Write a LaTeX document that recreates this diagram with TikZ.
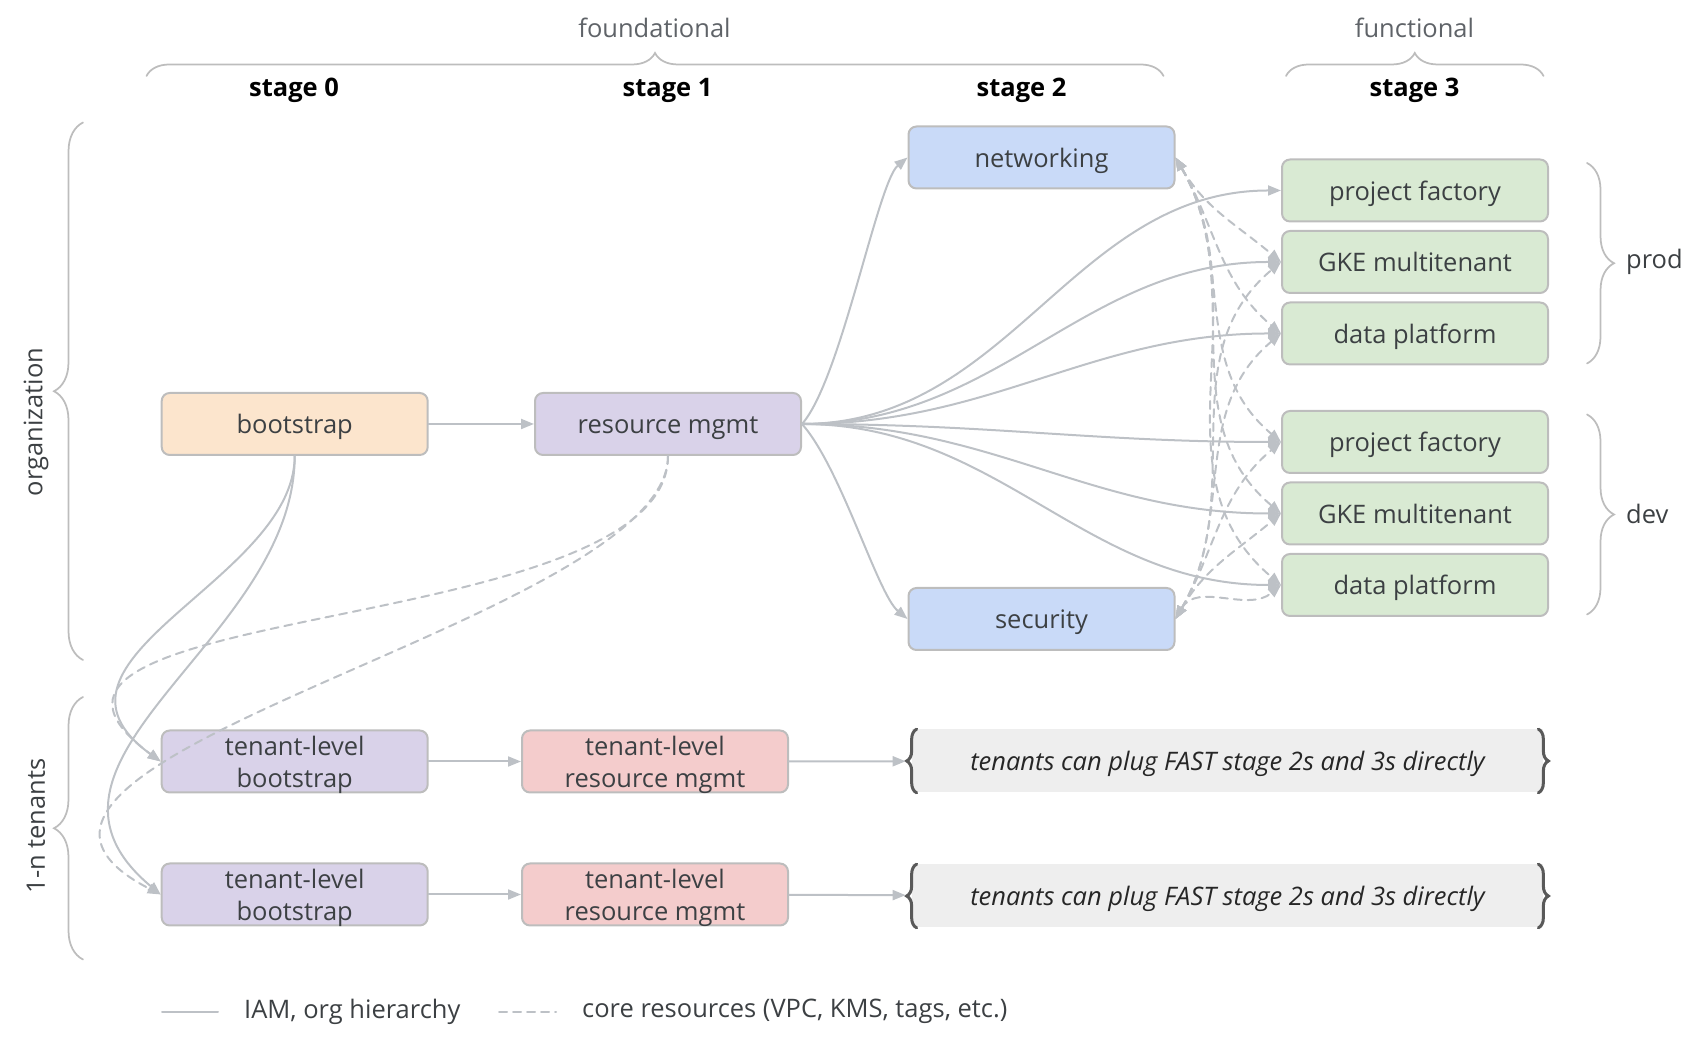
\documentclass[tikz,border=0pt]{standalone}
\usepackage{fontspec}
\setmainfont{Open Sans}
\usepackage{tikz}
\usetikzlibrary{arrows.meta,decorations.pathreplacing}
\usepackage{xcolor}
\definecolor{linegray}{HTML}{BDC1C6}
\definecolor{boxline}{HTML}{BDBDBD}
\definecolor{txtgray}{HTML}{3C4043}
\definecolor{capgray}{HTML}{5F6368}
\definecolor{bootfill}{HTML}{FCE5CD}
\definecolor{lilacfill}{HTML}{D9D2E9}
\definecolor{bluefill}{HTML}{C9DAF8}
\definecolor{greenfill}{HTML}{D9EAD3}
\definecolor{pinkfill}{HTML}{F4CCCC}
\definecolor{notefill}{HTML}{EEEEEE}
\definecolor{notebrace}{HTML}{595959}

\begin{document}
\begin{tikzpicture}[>={Triangle[length=0.26cm,width=0.2cm]},line cap=round,
  txt/.style={text=txtgray,font=\fontsize{14.5}{18}\selectfont},
  box/.style={txt,draw=boxline,line width=0.04cm,rounded corners=0.16cm,minimum width=5.32cm,minimum height=1.24cm,align=center,text height=1.34em,text depth=0.24em},
  twoline/.style={text height=1.13cm,text depth=0.085cm,inner ysep=0.01cm},
  note/.style={fill=notefill,minimum width=12.62cm,minimum height=1.26cm,text=black!85,font=\fontsize{14.5}{18}\selectfont\itshape,text height=1.34em,text depth=0.24em},
  stagelbl/.style={font=\fontsize{14.5}{18}\selectfont\bfseries},
  iam/.style={draw=linegray,line width=0.04cm},
  core/.style={draw=linegray,line width=0.04cm,dash pattern=on 0.16cm off 0.12cm},
  grp/.style={draw=boxline,line width=0.035cm,decorate,decoration={brace,amplitude=#1}},
  notebr/.style={draw=notebrace,line width=0.06cm,decorate,decoration={brace,amplitude=0.2cm}}]
\useasboundingbox (0,0) rectangle (34.04,20.94);
% column headers
\node[txt,text=capgray] (found) at (13.09,20.38) {foundational};
\node[txt,text=capgray] (func) at (28.29,20.38) {functional};
\draw[grp=0.46cm] (2.93,19.42) -- (23.27,19.42);
\draw[grp=0.46cm] (25.72,19.42) -- (30.87,19.42);
\node[stagelbl] (s0) at (5.88,19.14) {stage 0};
\node[stagelbl] (s1) at (13.35,19.14) {stage 1};
\node[stagelbl] (s2) at (20.43,19.14) {stage 2};
\node[stagelbl] (s3) at (28.29,19.14) {stage 3};
% row groups
\draw[grp=0.58cm] (1.66,7.74) -- (1.66,18.49);
\node[txt,rotate=90] (org) at (0.72,12.5) {organization};
\draw[grp=0.58cm] (1.66,1.75) -- (1.66,7.00);
\node[txt,rotate=90] (ten) at (0.72,4.42) {1-n tenants};
\draw[grp=0.54cm] (31.74,17.68) -- (31.74,13.67);
\node[txt,anchor=west] (prod) at (32.40,15.70) {prod};
\draw[grp=0.54cm] (31.74,12.65) -- (31.74,8.65);
\node[txt,anchor=west] (dev) at (32.40,10.67) {dev};
% stages 0-2
\node[box,fill=bootfill] (boot) at (5.894,12.46) {bootstrap};
\node[box,fill=lilacfill] (rm) at (13.36,12.46) {resource mgmt};
\node[box,fill=bluefill] (net) at (20.83,17.79) {networking};
\node[box,fill=bluefill] (sec) at (20.83,8.56) {security};
% stage 3
\node[box,fill=greenfill] (pfp) at (28.30,17.13) {project factory};
\node[box,fill=greenfill] (gkp) at (28.30,15.70) {GKE multitenant};
\node[box,fill=greenfill] (dpp) at (28.30,14.27) {data platform};
\node[box,fill=greenfill] (pfd) at (28.30,12.10) {project factory};
\node[box,fill=greenfill] (gkd) at (28.30,10.67) {GKE multitenant};
\node[box,fill=greenfill] (dpd) at (28.30,9.24) {data platform};
% tenants
\node[box,twoline,fill=lilacfill] (tb1) at (5.894,5.71) {tenant-level\\bootstrap};
\node[box,twoline,fill=pinkfill] (trm1) at (13.10,5.71) {tenant-level\\resource mgmt};
\node[note] (tp1) at (24.55,5.72) {tenants can plug FAST stage 2s and 3s directly};
\node[box,twoline,fill=lilacfill] (tb2) at (5.894,3.05) {tenant-level\\bootstrap};
\node[box,twoline,fill=pinkfill] (trm2) at (13.10,3.05) {tenant-level\\resource mgmt};
\node[note] (tp2) at (24.55,3.02) {tenants can plug FAST stage 2s and 3s directly};
\draw[notebr] ([xshift=0.1cm]tp1.south west) -- ([xshift=0.1cm]tp1.north west);
\draw[notebr] ([xshift=-0.1cm]tp1.north east) -- ([xshift=-0.1cm]tp1.south east);
\draw[notebr] ([xshift=0.1cm]tp2.south west) -- ([xshift=0.1cm]tp2.north west);
\draw[notebr] ([xshift=-0.1cm]tp2.north east) -- ([xshift=-0.1cm]tp2.south east);
% IAM, org hierarchy
\draw[iam,->] (boot) -- (rm);
\draw[iam,->] (rm.east) .. controls +(0.78,0.88) and +(-0.6,-0.5) .. (net.west);
\draw[iam,->] (rm.east) .. controls +(0.78,-0.88) and +(-0.6,0.5) .. (sec.west);
\draw[iam,->] (rm.east) to[out=0,in=180] (pfp.west);
\draw[iam,->] (rm.east) to[out=0,in=180] (gkp.west);
\draw[iam,->] (rm.east) to[out=0,in=180] (dpp.west);
\draw[iam,->] (rm.east) to[out=0,in=180] (pfd.west);
\draw[iam,->] (rm.east) to[out=0,in=180] (gkd.west);
\draw[iam,->] (rm.east) to[out=0,in=180] (dpd.west);
\draw[iam,->] (boot.south) .. controls +(0,-2.5) and +(-2.82,2.04) .. (tb1.west);
\draw[iam,->] (boot.south) .. controls +(0,-3.7) and +(-3.22,2.68) .. (tb2.west);
\draw[iam,->] (tb1) -- (trm1);
\draw[iam,->] (tb2) -- (trm2);
\draw[iam,->,shorten >=0.12cm] (trm1) -- (tp1);
\draw[iam,->,shorten >=0.12cm] (trm2) -- (tp2);
% core resources
\draw[core,->] (rm.south) .. controls +(0,-3.7) and +(-4.42,3.24) .. (tb1.west);
\draw[core,->] (rm.south) .. controls +(0,-3.3) and +(-5.22,2.68) .. (tb2.west);
\draw[core,<->] (net.east) to[out=-60,in=140] (gkp.west);
\draw[core,<->] (net.east) to[out=-60,in=140] (dpp.west);
\draw[core,<->] (net.east) to[out=-60,in=140] (pfd.west);
\draw[core,<->] (net.east) to[out=-60,in=140] (gkd.west);
\draw[core,<->] (net.east) to[out=-60,in=140] (dpd.west);
\draw[core,<->] (sec.east) to[out=60,in=-140] (gkp.west);
\draw[core,<->] (sec.east) to[out=60,in=-140] (dpp.west);
\draw[core,<->] (sec.east) to[out=60,in=-140] (pfd.west);
\draw[core,<->] (sec.east) to[out=60,in=-140] (gkd.west);
\draw[core,<->] (sec.east) to[out=60,in=-140] (dpd.west);
% legend
\draw[iam] (3.24,0.706) -- (4.36,0.706);
\node[txt,anchor=west] (legiam) at (4.76,0.706) {IAM, org hierarchy};
\draw[core] (9.98,0.706) -- (11.12,0.706);
\node[txt,anchor=west] (legcore) at (11.52,0.706) {core resources (VPC, KMS, tags, etc.)};
\end{tikzpicture}
\end{document}
